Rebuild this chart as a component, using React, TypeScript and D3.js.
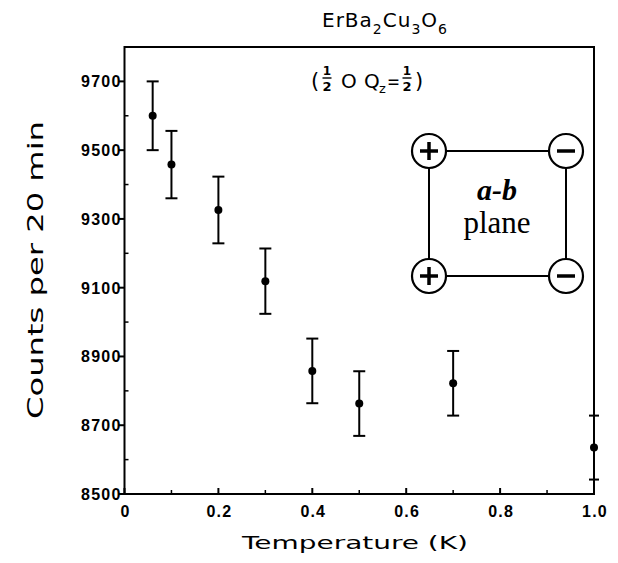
import React from "react";
import * as d3 from "d3";

const temps = [0.06, 0.1, 0.2, 0.3, 0.4, 0.5, 0.7, 1.0];
const counts = [9600, 9458, 9326, 9119, 8858, 8763, 8822, 8635];
const errors = [100, 98, 97, 95, 94, 94, 94, 93];
const xMajor = [0, 0.2, 0.4, 0.6, 0.8, 1.0];
const xMinor = [0.1, 0.3, 0.5, 0.7, 0.9];
const yMajor = [8500, 8700, 8900, 9100, 9300, 9500, 9700];
const yMinor = [8600, 8800, 9000, 9200, 9400, 9600];

const W = 618, H = 563;
const L = 124.5, R = 594, T = 47, B = 494;

export default function App() {
  const x = d3.scaleLinear().domain([0, 1]).range([L, R]);
  const y = d3.scaleLinear().domain([8500, 9800]).range([B, T]);
  const xFmt = (v: number) => (v === 0 ? "0" : d3.format(".1f")(v));
  const labFont = "'Liberation Sans', Arial, sans-serif";
  const plotFont = "'DejaVu Sans', sans-serif";

  const cx1 = 429, cx2 = 566, cy1 = 151, cy2 = 276, r = 17;
  const circ = (cx: number, cy: number, plus: boolean, k: string) => (
    <g key={k}>
      <circle cx={cx} cy={cy} r={r} fill="white" stroke="black" strokeWidth={2.2} />
      <line x1={cx - 9} x2={cx + 9} y1={cy} y2={cy} stroke="black" strokeWidth={3.5} />
      {plus && <line x1={cx} x2={cx} y1={cy - 9} y2={cy + 9} stroke="black" strokeWidth={3.5} />}
    </g>
  );

  const frac = (fx: number, k: string) => (
    <g key={k}>
      <text x={fx} y={75} fontSize={12} fontWeight="bold" textAnchor="middle" fontFamily={plotFont}>1</text>
      <line x1={fx - 4.5} x2={fx + 4.5} y1={78} y2={78} stroke="black" strokeWidth={1.4} />
      <text x={fx} y={91} fontSize={13} fontWeight="bold" textAnchor="middle" fontFamily={plotFont}>2</text>
    </g>
  );

  return (
    <svg width={W} height={H} style={{ position: "absolute", left: 0, top: 0, background: "white" }}>
      <rect x={0} y={0} width={W} height={H} fill="white" />
      <rect x={L} y={T} width={R - L} height={B - T} fill="none" stroke="black" strokeWidth={2} />
      {yMajor.map((v) => (
        <g key={"ym" + v}>
          <line x1={L - 6} x2={L} y1={y(v)} y2={y(v)} stroke="black" strokeWidth={2} />
          <text x={L - 3} y={y(v) + 6} textAnchor="end" fontSize={16} fontWeight="bold" fontFamily={labFont} letterSpacing={1.2}>
            {v}
          </text>
        </g>
      ))}
      {yMinor.map((v) => (
        <line key={"yn" + v} x1={L} x2={L + 4} y1={y(v)} y2={y(v)} stroke="black" strokeWidth={1.5} />
      ))}
      {xMajor.map((v) => (
        <g key={"xm" + v}>
          <line x1={x(v)} x2={x(v)} y1={B} y2={B - 6} stroke="black" strokeWidth={2} />
          <text x={x(v) + 1} y={B + 23} textAnchor="middle" fontSize={16} fontWeight="bold" fontFamily={labFont} letterSpacing={1.2}>
            {xFmt(v)}
          </text>
        </g>
      ))}
      {xMinor.map((v) => (
        <line key={"xn" + v} x1={x(v)} x2={x(v)} y1={B} y2={B - 4} stroke="black" strokeWidth={1.5} />
      ))}
      {temps.map((t, i) => {
        const px = x(t);
        const cap = t === 1.0 ? 5 : 6;
        return (
          <g key={"p" + i}>
            <line x1={px} x2={px} y1={y(counts[i] - errors[i])} y2={y(counts[i] + errors[i])} stroke="black" strokeWidth={2} />
            <line x1={px - cap} x2={px + cap} y1={y(counts[i] + errors[i])} y2={y(counts[i] + errors[i])} stroke="black" strokeWidth={2} />
            <line x1={px - cap} x2={px + cap} y1={y(counts[i] - errors[i])} y2={y(counts[i] - errors[i])} stroke="black" strokeWidth={2} />
            <circle cx={px} cy={y(counts[i])} r={4} fill="black" />
          </g>
        );
      })}
      <text x={355} y={549} textAnchor="middle" fontSize={18} fontFamily={plotFont} textLength={226} lengthAdjust="spacingAndGlyphs">
        Temperature (K)
      </text>
      <text transform="translate(43,270) rotate(-90)" textAnchor="middle" fontSize={21} fontFamily={plotFont} textLength={298} lengthAdjust="spacingAndGlyphs">
        Counts per 20 min
      </text>
      <text x={322} y={27} fontSize={20} fontFamily={plotFont} letterSpacing={1}>
        ErBa<tspan fontSize={14} dy={7}>2</tspan>
        <tspan dy={-7}>Cu</tspan>
        <tspan fontSize={14} dy={7}>3</tspan>
        <tspan dy={-7}>O</tspan>
        <tspan fontSize={14} dy={7}>6</tspan>
      </text>
      {/* subtitle */}
      <text x={311} y={88} fontSize={21} fontFamily={plotFont}>(</text>
      {frac(327, "f1")}
      <text x={341} y={88} fontSize={20} fontFamily={plotFont}>O</text>
      <text x={364} y={88} fontSize={20} fontFamily={plotFont}>Q</text>
      <text x={379} y={93} fontSize={13} fontFamily={plotFont}>z</text>
      <text x={387} y={88} fontSize={20} fontFamily={plotFont} textLength={13} lengthAdjust="spacingAndGlyphs">=</text>
      {frac(407, "f2")}
      <text x={415} y={88} fontSize={21} fontFamily={plotFont}>)</text>
      <line x1={cx1} x2={cx2} y1={cy1} y2={cy1} stroke="black" strokeWidth={2} />
      <line x1={cx1} x2={cx2} y1={cy2} y2={cy2} stroke="black" strokeWidth={2} />
      <line x1={cx1} x2={cx1} y1={cy1} y2={cy2} stroke="black" strokeWidth={2} />
      <line x1={cx2} x2={cx2} y1={cy1} y2={cy2} stroke="black" strokeWidth={2} />
      {circ(cx1, cy1, true, "c1")}
      {circ(cx2, cy1, false, "c2")}
      {circ(cx1, cy2, true, "c3")}
      {circ(cx2, cy2, false, "c4")}
      <text x={497} y={200} textAnchor="middle" fontSize={30} fontStyle="italic" fontWeight="bold" fontFamily="'Liberation Serif', 'Times New Roman', serif">
        a-b
      </text>
      <text x={497} y={233} textAnchor="middle" fontSize={31} fontFamily="'Liberation Serif', 'Times New Roman', serif">
        plane
      </text>
    </svg>
  );
}
